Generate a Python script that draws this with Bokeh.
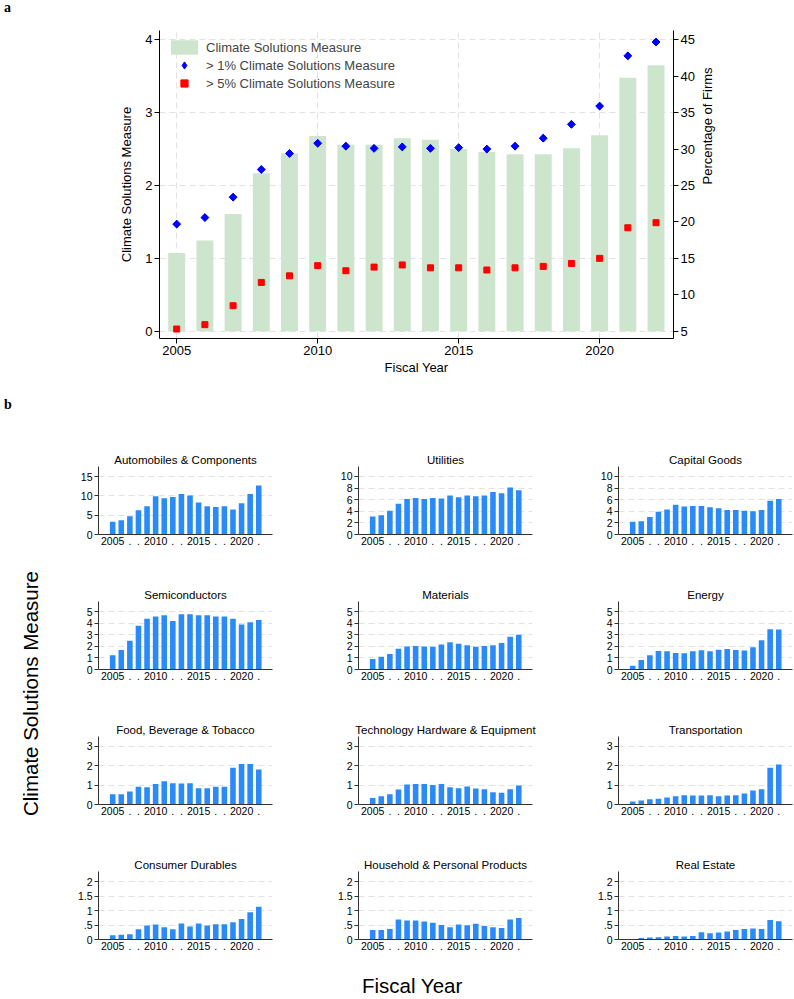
from math import pi
from bokeh.plotting import figure
from bokeh.models import Range1d, LinearAxis, FixedTicker, Legend, LegendItem, Label, Div
from bokeh.layouts import column, row
from bokeh.embed import file_html
from bokeh.resources import INLINE

FONT = "Liberation Sans"

# ---------------- data ----------------
years = list(range(2005, 2023))

# Panel a
csm_mean = [1.075, 1.245, 1.61, 2.17, 2.44, 2.68, 2.56, 2.56, 2.65, 2.63, 2.50, 2.46, 2.43, 2.43, 2.51, 2.69, 3.48, 3.65]
pct_above_1 = [19.7, 20.6, 23.4, 27.2, 29.4, 30.8, 30.4, 30.1, 30.3, 30.1, 30.2, 30.0, 30.4, 31.5, 33.4, 35.9, 42.8, 44.7]
pct_above_5 = [5.3, 5.9, 8.5, 11.7, 12.6, 14.0, 13.3, 13.8, 14.1, 13.7, 13.7, 13.4, 13.7, 13.9, 14.3, 15.0, 19.2, 19.9]

# Panel b (industry groups)
automobiles = [3.3, 3.7, 4.7, 6.3, 7.3, 9.9, 9.4, 9.7, 10.5, 10.1, 8.3, 7.3, 7.1, 7.3, 6.5, 8.1, 10.5, 12.7]
utilities = [3.1, 3.3, 4.1, 5.3, 6.1, 6.3, 6.1, 6.3, 6.2, 6.7, 6.4, 6.7, 6.6, 6.7, 7.3, 7.1, 8.1, 7.6]
capital_goods = [2.2, 2.3, 3.0, 3.9, 4.3, 5.1, 4.8, 4.9, 4.9, 4.7, 4.5, 4.2, 4.2, 4.1, 4.0, 4.2, 5.8, 6.1]
semiconductors = [1.24, 1.7, 2.5, 3.8, 4.4, 4.6, 4.7, 4.2, 4.8, 4.8, 4.7, 4.7, 4.6, 4.6, 4.4, 3.9, 4.1, 4.3]
materials = [0.92, 1.1, 1.35, 1.8, 2.0, 2.04, 2.0, 1.98, 2.16, 2.36, 2.24, 2.1, 1.98, 2.04, 2.1, 2.3, 2.84, 3.02]
energy = [0.32, 0.83, 1.24, 1.6, 1.58, 1.44, 1.41, 1.58, 1.67, 1.58, 1.72, 1.78, 1.7, 1.64, 1.93, 2.53, 3.5, 3.48]
food_bev = [0.53, 0.53, 0.67, 0.91, 0.89, 1.05, 1.2, 1.1, 1.08, 1.1, 0.84, 0.84, 0.91, 0.91, 1.89, 2.09, 2.08, 1.8]
tech_hardware = [0.34, 0.43, 0.53, 0.77, 1.03, 1.06, 1.05, 1.01, 1.06, 0.89, 0.84, 0.93, 0.82, 0.79, 0.63, 0.6, 0.79, 0.98]
transportation = [0.15, 0.2, 0.27, 0.3, 0.36, 0.43, 0.48, 0.46, 0.46, 0.48, 0.43, 0.46, 0.48, 0.57, 0.72, 0.79, 1.89, 2.06]
consumer_durables = [0.15, 0.16, 0.18, 0.35, 0.48, 0.52, 0.42, 0.35, 0.55, 0.45, 0.55, 0.48, 0.53, 0.53, 0.6, 0.71, 0.94, 1.13]
household = [0.33, 0.33, 0.36, 0.69, 0.66, 0.66, 0.62, 0.58, 0.50, 0.42, 0.52, 0.49, 0.54, 0.47, 0.42, 0.40, 0.69, 0.74]
real_estate = [0.02, 0.05, 0.07, 0.08, 0.1, 0.12, 0.1, 0.12, 0.25, 0.22, 0.24, 0.28, 0.33, 0.36, 0.38, 0.36, 0.67, 0.63]

titles = ["Automobiles & Components", "Utilities", "Capital Goods",
          "Semiconductors", "Materials", "Energy",
          "Food, Beverage & Tobacco", "Technology Hardware & Equipment", "Transportation",
          "Consumer Durables", "Household & Personal Products", "Real Estate"]
series = [automobiles, utilities, capital_goods,
          semiconductors, materials, energy,
          food_bev, tech_hardware, transportation,
          consumer_durables, household, real_estate]
ticks_15 = [0, 5, 10, 15]
ticks_10 = [0, 2, 4, 6, 8, 10]
ticks_5 = [0, 1, 2, 3, 4, 5]
ticks_3 = [0, 1, 2, 3]
ticks_2 = [0, 0.5, 1, 1.5, 2]
tick_labels_2 = {0: "0", 0.5: ".5", 1: "1", 1.5: "1.5", 2: "2"}
yticks = [ticks_15, ticks_10, ticks_10, ticks_5, ticks_5, ticks_5,
          ticks_3, ticks_3, ticks_3, ticks_2, ticks_2, ticks_2]
ymax = [17.6, 11.7, 11.7, 5.9, 5.9, 5.9, 3.5, 3.5, 3.5, 2.35, 2.35, 2.35]
year_labels = {2005: "2005", 2007: ".", 2008: ".", 2010: "2010", 2012: ".", 2013: ".",
               2015: "2015", 2017: ".", 2018: ".", 2020: "2020", 2022: "."}

GREEN = "#cde4cd"
BLUE_MK = "#0000ff"
RED_MK = "#ff0000"
BAR_BLUE = "#2a8bf8"
GRID = "#e2e2e2"

# ---------------- panel a ----------------
pa = figure(frame_width=514, frame_height=308,
            x_range=Range1d(2004.39, 2022.62), y_range=Range1d(-0.1, 4.128),
            min_border_left=159, min_border_right=121, min_border_top=8, min_border_bottom=45,
            toolbar_location=None, output_backend="svg")
pa.extra_y_ranges = {"pct": Range1d(4.0, 46.28)}
pa.outline_line_color = None
bars = pa.vbar(x=years, top=csm_mean, bottom=0, width=0.6, fill_color=GREEN, line_color=None)
# diamond symbol used as legend key (hidden beneath the rotated squares)
d1_key = pa.scatter(x=years, y=pct_above_1, y_range_name="pct", marker="diamond", size=7,
                    fill_color=BLUE_MK, line_color=BLUE_MK)
d1 = pa.scatter(x=years, y=pct_above_1, y_range_name="pct", marker="square", angle=pi / 4,
                size=5.6, fill_color=BLUE_MK, line_color=BLUE_MK)
d5 = pa.scatter(x=years, y=pct_above_5, y_range_name="pct", marker="square",
                size=6, fill_color=RED_MK, line_color=RED_MK)

pa.xaxis.ticker = FixedTicker(ticks=[2005, 2010, 2015, 2020])
pa.xaxis.axis_label = "Fiscal Year"
pa.yaxis.ticker = FixedTicker(ticks=[0, 1, 2, 3, 4])
pa.yaxis.axis_label = "Climate Solutions Measure"
ra = LinearAxis(y_range_name="pct", ticker=FixedTicker(ticks=list(range(5, 50, 5))),
                axis_label="Percentage of Firms", axis_label_orientation=pi / 2)
pa.add_layout(ra, "right")
for ax in [pa.xaxis[0], pa.yaxis[0], ra]:
    ax.major_label_text_font = FONT
    ax.major_label_text_font_size = "13px"
    ax.major_label_text_color = "black"
    ax.axis_label_text_font = FONT
    ax.axis_label_text_font_size = "13px"
    ax.axis_label_text_font_style = "normal"
    ax.axis_label_text_color = "black"
    ax.minor_tick_line_color = None
    ax.major_tick_out = 5
    ax.major_tick_in = 0
    ax.major_label_standoff = 2
    ax.axis_line_color = "black"
    ax.major_tick_line_color = "black"
pa.xaxis.axis_label_standoff = 2
pa.yaxis.axis_label_standoff = 8
ra.axis_label_standoff = 10

pa.xgrid.ticker = FixedTicker(ticks=[2005, 2010, 2015, 2020])
pa.xgrid.grid_line_color = GRID
pa.xgrid.grid_line_dash = "6 4"
pa.ygrid.grid_line_color = GRID
pa.ygrid.grid_line_dash = "6 4"

legend = Legend(items=[LegendItem(label="Climate Solutions Measure", renderers=[bars]),
                       LegendItem(label="> 1% Climate Solutions Measure", renderers=[d1_key]),
                       LegendItem(label="> 5% Climate Solutions Measure", renderers=[d5])],
                location="top_left", margin=8, padding=0, spacing=0,
                glyph_width=34, glyph_height=18, label_height=18, label_standoff=5,
                label_text_font=FONT, label_text_font_size="13px",
                border_line_color=None, background_fill_alpha=0)
pa.add_layout(legend)


# ---------------- panel b ----------------
def small(i, last):
    p = figure(frame_width=174, frame_height=68,
               x_range=Range1d(2003.35, 2023.6), y_range=Range1d(0, ymax[i]),
               min_border_left=45, min_border_right=(1 if last else 41),
               min_border_top=43, min_border_bottom=24,
               toolbar_location=None, output_backend="svg", title=titles[i])
    p.outline_line_color = None
    p.vbar(x=years, top=series[i], bottom=0, width=0.65, fill_color=BAR_BLUE, line_color=None)
    p.title.align = "center"
    p.title.text_font = FONT
    p.title.text_font_size = "11.5px"
    p.title.text_font_style = "normal"
    p.title.text_color = "black"
    p.title.standoff = 2
    p.xaxis.ticker = FixedTicker(ticks=years)
    p.xaxis.major_label_overrides = {y: year_labels.get(y, "") for y in years}
    p.xaxis.major_tick_out = 0
    p.xaxis.major_tick_in = 0
    p.yaxis.ticker = FixedTicker(ticks=yticks[i])
    if yticks[i] is ticks_2:
        p.yaxis.major_label_overrides = tick_labels_2
    p.yaxis.major_tick_out = 4
    p.yaxis.major_tick_in = 0
    for ax in [p.xaxis[0], p.yaxis[0]]:
        ax.major_label_text_font = FONT
        ax.major_label_text_font_size = "10.5px"
        ax.major_label_text_color = "black"
        ax.minor_tick_line_color = None
        ax.major_label_standoff = 2
        ax.axis_line_color = "#333333"
        ax.major_tick_line_color = "#333333"
    p.xgrid.visible = False
    p.ygrid.grid_line_color = GRID
    p.ygrid.grid_line_dash = "6 4"
    return p


rows = []
for r in range(4):
    rows.append(row([small(3 * r + c, c == 2) for c in range(3)], spacing=0))
grid = column(rows, spacing=0)

left = figure(frame_width=53, frame_height=540, x_range=Range1d(0, 1), y_range=Range1d(0, 1),
              x_axis_type=None, y_axis_type=None, min_border=0,
              toolbar_location=None, output_backend="svg")
left.outline_line_color = None
left.add_layout(Label(x=0.57, y=0.5, text="Climate Solutions Measure", angle=pi / 2,
                      text_align="center", text_baseline="middle",
                      text_font=FONT, text_font_size="20.5px", text_color="black"))

bottom = Div(text='<div style="font-family:\'Liberation Sans\';font-size:20.5px;color:black;'
                  'margin-left:362px;margin-top:12px;line-height:22px;white-space:nowrap;">Fiscal Year</div>',
             width=793, height=35, margin=0)

div_a = Div(text='<span style="font-family:\'Liberation Serif\';font-weight:bold;font-size:14px;'
                 'margin-left:4px;line-height:16px;">a</span>',
            width=793, height=22, margin=0)
div_b = Div(text='<div style="font-family:\'Liberation Serif\';font-weight:bold;font-size:14px;'
                 'margin-left:4px;margin-top:14px;line-height:16px;">b</div>',
            width=793, height=40, margin=0)

layout = column([div_a, pa, div_b, row([left, grid], spacing=0), bottom], spacing=0)

open("out.html", "w").write(file_html(layout, INLINE))
